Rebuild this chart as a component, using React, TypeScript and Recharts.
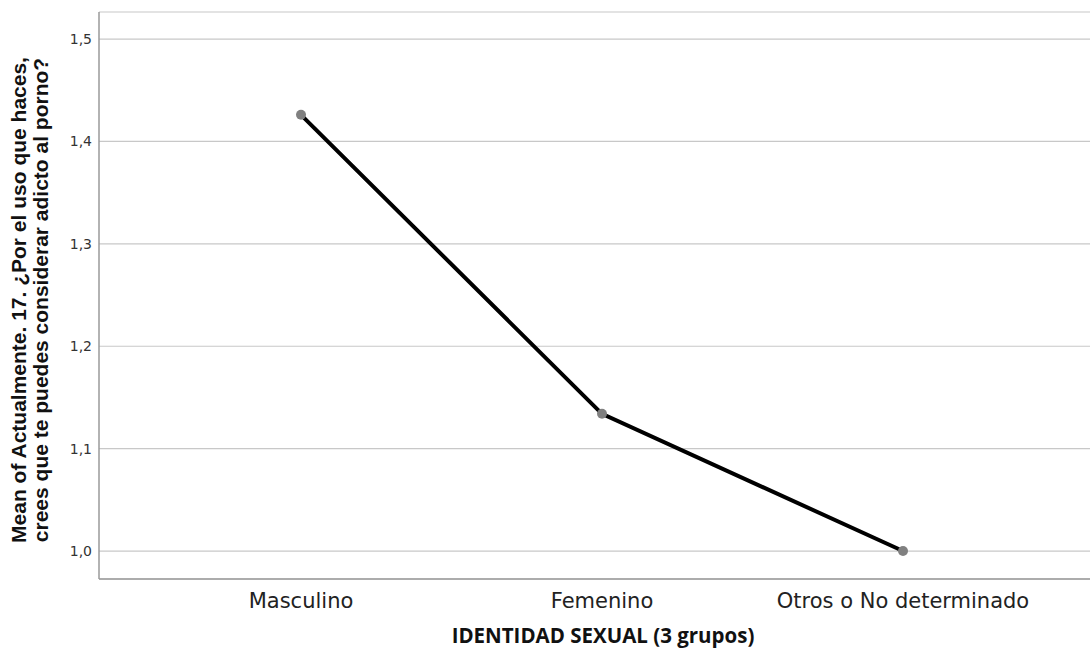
import React from "react";
import { LineChart, Line, XAxis, YAxis, CartesianGrid, Label } from "recharts";

const categories = ["Masculino", "Femenino", "Otros o No determinado"];
const means = [1.426, 1.134, 1.0];
const yTicks = [1.0, 1.1, 1.2, 1.3, 1.4, 1.5];
const yTitleLines = [
  "Mean of Actualmente. 17. ¿Por el uso que haces,",
  "crees que te puedes considerar adicto al porno?",
];
const xTitle = "IDENTIDAD SEXUAL (3 grupos)";

const data = categories.map((c, i) => ({ name: c, value: means[i] }));

const YTitle = () => {
  const cy = 300;
  return (
    <g>
      {yTitleLines.map((t, i) => (
        <text
          key={i}
          x={0}
          y={0}
          transform={`translate(${26 + i * 22}, ${cy}) rotate(-90)`}
          textAnchor="middle"
          fontFamily="'Liberation Sans', Arial, sans-serif"
          fontWeight="bold"
          fontSize={21}
          fill="#111"
        >
          {t}
        </text>
      ))}
    </g>
  );
};

const XTitle = () => (
  <text
    x={603}
    y={643}
    textAnchor="middle"
    fontFamily="'Open Sans', sans-serif"
    fontWeight="bold"
    fontSize={20.5}
    fill="#111"
  >
    {xTitle}
  </text>
);

export default function App() {
  return (
    <div style={{ position: "absolute", left: 0, top: 0, width: 1090, height: 651, background: "#fff" }}>
      <LineChart
        width={1090}
        height={651}
        data={data}
        margin={{ top: 12, right: 0, bottom: 42, left: 0 }}
      >
        <CartesianGrid horizontal vertical={false} stroke="#c8c8c8" strokeWidth={1.2} />
        <XAxis
          dataKey="name"
          height={30}
          padding={{ left: 202, right: 187 }}
          tickLine={false}
          tickSize={0}
          tickMargin={14}
          axisLine={{ stroke: "#9a9a9a", strokeWidth: 1.5 }}
          tick={{ fill: "#222", fontSize: 21, fontFamily: "'DejaVu Sans', sans-serif" }}
          interval={0}
        >
          <Label content={<XTitle />} />
        </XAxis>
        <YAxis
          width={99}
          type="number"
          domain={[0.9727, 1.5264]}
          ticks={yTicks}
          allowDataOverflow
          tickLine={false}
          tickSize={0}
          tickMargin={7}
          axisLine={{ stroke: "#9a9a9a", strokeWidth: 1.5 }}
          tick={{ fill: "#333", fontSize: 14, fontFamily: "'DejaVu Sans', sans-serif" }}
          tickFormatter={(v: number) => v.toFixed(1).replace(".", ",")}
        >
          <Label content={<YTitle />} />
        </YAxis>
        <Line
          type="linear"
          dataKey="value"
          stroke="#000"
          strokeWidth={4}
          dot={{ r: 5, fill: "#808080", stroke: "none" }}
          activeDot={false}
          isAnimationActive={false}
        />
      </LineChart>
    </div>
  );
}
